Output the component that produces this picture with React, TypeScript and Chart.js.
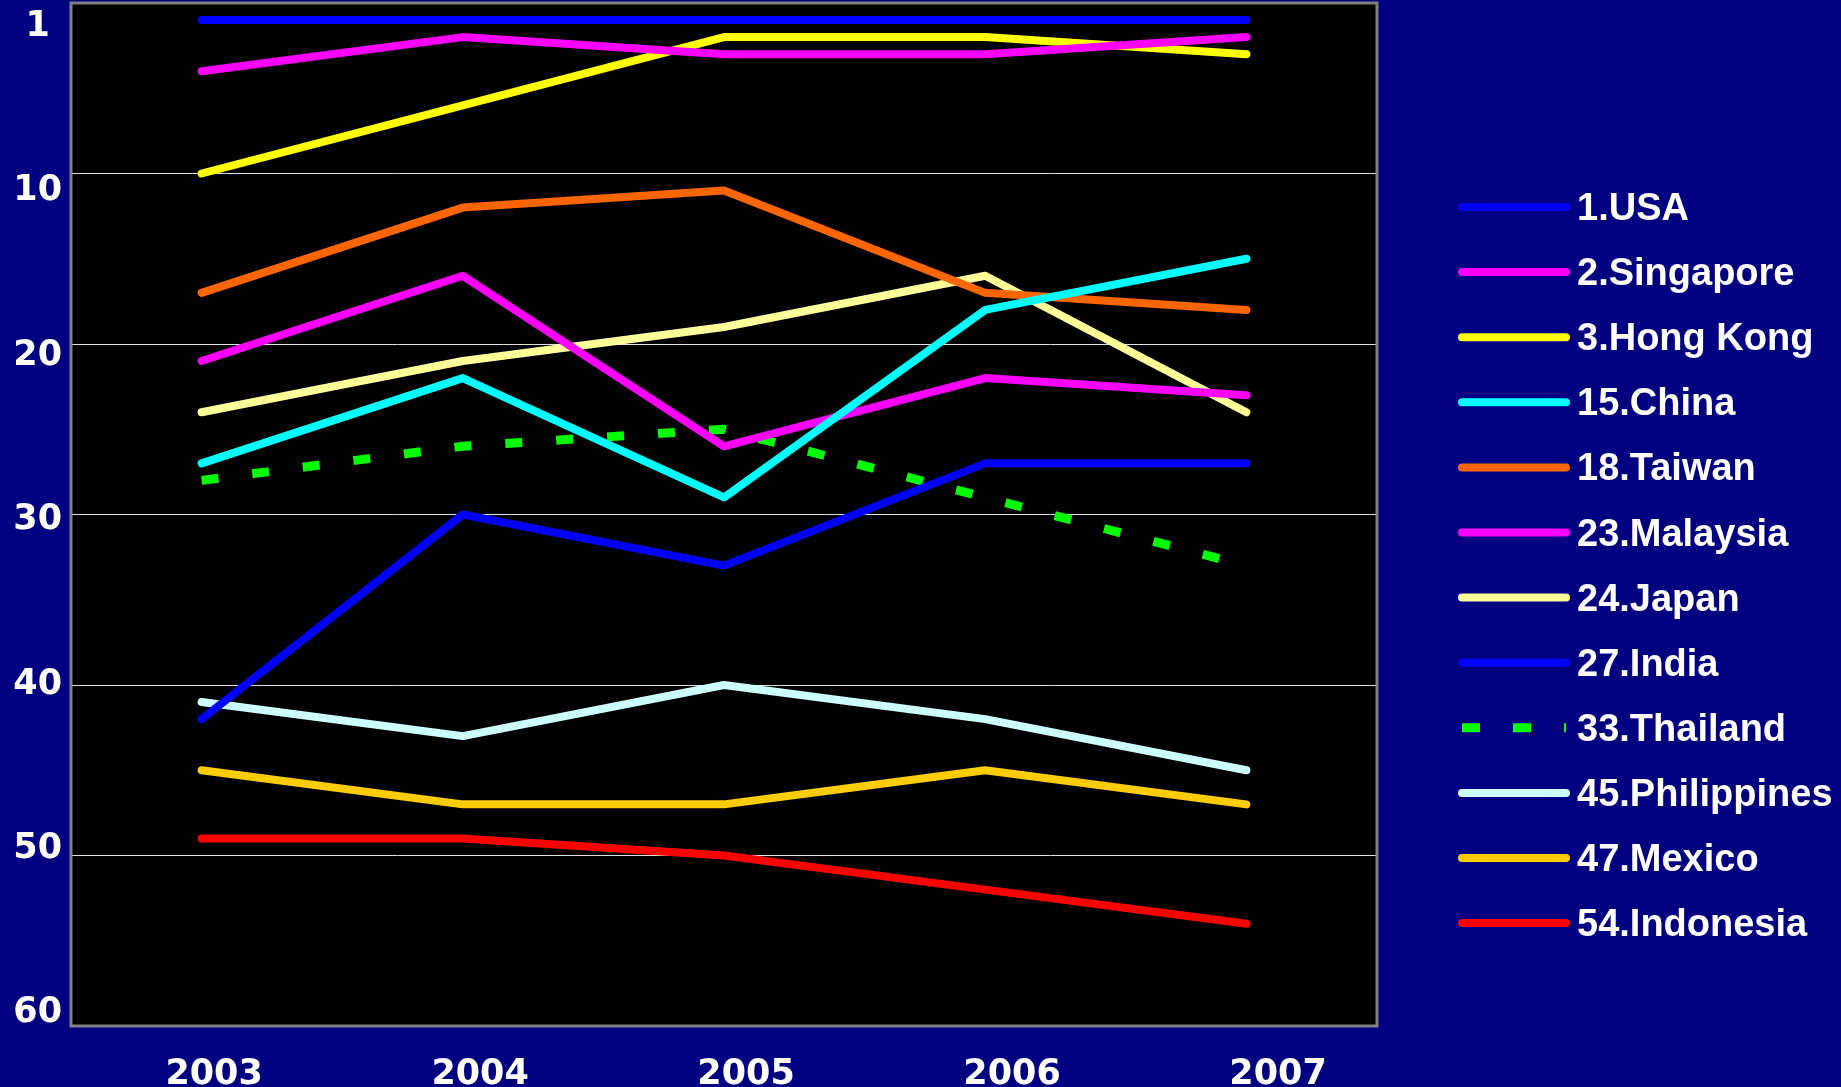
import React, { useEffect, useRef } from 'react';
import { Chart, registerables } from 'chart.js';

Chart.register(...registerables);

// ---- data ----
const YEARS = ['2003', '2004', '2005', '2006', '2007'];
const COUNTRIES = [
  '1.USA', '2.Singapore', '3.Hong Kong', '15.China', '18.Taiwan', '23.Malaysia',
  '24.Japan', '27.India', '33.Thailand', '45.Philippines', '47.Mexico', '54.Indonesia',
];
const USA = [1, 1, 1, 1, 1];
const SINGAPORE = [4, 2, 3, 3, 2];
const HONG_KONG = [10, 6, 2, 2, 3];
const CHINA = [27, 22, 29, 18, 15];
const TAIWAN = [17, 12, 11, 17, 18];
const MALAYSIA = [21, 16, 26, 22, 23];
const JAPAN = [24, 21, 19, 16, 24];
const INDIA = [42, 30, 33, 27, 27];
const THAILAND = [28, 26, 25, 29, 33];
const PHILIPPINES = [41, 43, 40, 42, 45];
const MEXICO = [45, 47, 47, 45, 47];
const INDONESIA = [49, 49, 50, 52, 54];
const SERIES = [USA, SINGAPORE, HONG_KONG, CHINA, TAIWAN, MALAYSIA, JAPAN, INDIA, THAILAND, PHILIPPINES, MEXICO, INDONESIA];
const Y_TICK_VALUES = [0, 10, 20, 30, 40, 50, 60];
const Y_TICK_LABELS = ['1', '10', '20', '30', '40', '50', '60'];

// ---- styles ----
const COLORS = [
  '#0000FF', '#FF00FF', '#FFFF00', '#00FFFF', '#FF6600', '#FF00FF',
  '#FFFF99', '#0000FF', '#00FF00', '#CCFFFF', '#FFCC00', '#FF0000',
];
const DASHED_INDEX = 8;
const NAVY = '#000080';
const AXIS_FONT = { family: '"DejaVu Sans", Verdana, sans-serif', size: 35, weight: 'bold' as const };
const LEGEND_FONT = 'bold 38px "Liberation Sans", Arial, sans-serif';

const zeroPadding = (scale: any) => {
  scale.paddingTop = 0;
  scale.paddingBottom = 0;
  scale.paddingLeft = 0;
  scale.paddingRight = 0;
};

const framePlugin = {
  id: 'frame',
  beforeDraw(chart: any) {
    const { ctx, chartArea: a } = chart;
    ctx.save();
    ctx.fillStyle = '#000000';
    ctx.fillRect(a.left, a.top, a.right - a.left, a.bottom - a.top);
    ctx.restore();
  },
  afterDraw(chart: any) {
    const { ctx, chartArea: a } = chart;
    ctx.save();
    ctx.strokeStyle = '#808080';
    ctx.lineWidth = 3;
    ctx.strokeRect(a.left, a.top, a.right - a.left, a.bottom - a.top);

    // legend
    const x0 = a.right + 85;
    const x1 = a.right + 189;
    const y0 = 207;
    const step = 65.1;
    chart.data.datasets.forEach((ds: any, i: number) => {
      const y = y0 + i * step;
      ctx.beginPath();
      ctx.strokeStyle = ds.borderColor;
      if (ds.borderDash && ds.borderDash.length) {
        ctx.setLineDash([18, 33]);
        ctx.lineCap = 'butt';
        ctx.lineWidth = 9;
      } else {
        ctx.setLineDash([]);
        ctx.lineCap = 'round';
        ctx.lineWidth = 8;
      }
      ctx.moveTo(x0, y);
      ctx.lineTo(x1, y);
      ctx.stroke();
      ctx.setLineDash([]);
      ctx.fillStyle = '#FFFFFF';
      ctx.font = LEGEND_FONT;
      ctx.textAlign = 'left';
      ctx.textBaseline = 'alphabetic';
      ctx.fillText(ds.label, a.right + 200, y + 13);
    });
    ctx.restore();
  },
};

export default function App() {
  const ref = useRef<HTMLCanvasElement | null>(null);

  useEffect(() => {
    if (!ref.current) return;
    const datasets = SERIES.map((values, i) => {
      const dashed = i === DASHED_INDEX;
      return {
        label: COUNTRIES[i],
        data: values,
        borderColor: COLORS[i],
        backgroundColor: COLORS[i],
        borderWidth: dashed ? 9 : 8,
        borderDash: dashed ? [17, 34] : [],
        borderCapStyle: dashed ? 'butt' : 'round',
        borderJoinStyle: 'round',
        pointRadius: 0,
        pointHoverRadius: 0,
        tension: 0,
        fill: false,
        xAxisID: 'x',
        yAxisID: 'y',
      };
    });

    const chart = new Chart(ref.current, {
      type: 'line',
      data: { labels: YEARS, datasets: datasets as any },
      plugins: [framePlugin],
      options: {
        animation: false,
        responsive: false,
        devicePixelRatio: 1,
        layout: { padding: { top: 3, right: 464, left: 0, bottom: 0 }, autoPadding: false },
        plugins: { legend: { display: false }, tooltip: { enabled: false } },
        scales: {
          x: {
            type: 'category',
            offset: true,
            display: false,
          },
          y: {
            type: 'linear',
            position: 'left',
            min: 0,
            max: 60,
            reverse: true,
            ticks: { stepSize: 10, display: false },
            grid: { color: '#E0E0E0', lineWidth: 1, drawTicks: false },
            border: { display: false },
            afterFit: (s: any) => { s.width = 0; zeroPadding(s); },
          },
          yl: {
            type: 'linear',
            position: 'left',
            min: -1.46,
            max: 60.78,
            bounds: 'data',
            reverse: true,
            grid: { display: false, drawTicks: false },
            border: { display: false },
            afterBuildTicks: (s: any) => { s.ticks = Y_TICK_VALUES.map((v) => ({ value: v })); },
            ticks: {
              color: '#FFFFFF',
              font: AXIS_FONT,
              padding: 9,
              crossAlign: 'center',
              callback: (_v: any, i: number) => Y_TICK_LABELS[i],
            },
            afterFit: (s: any) => { s.width = 71; zeroPadding(s); },
          },
          xl: {
            type: 'linear',
            position: 'bottom',
            min: -0.538,
            max: 4.372,
            bounds: 'data',
            grid: { display: false, drawTicks: false },
            border: { display: false },
            afterBuildTicks: (s: any) => { s.ticks = YEARS.map((_y, i) => ({ value: i })); },
            ticks: {
              color: '#FFFFFF',
              font: AXIS_FONT,
              padding: 28,
              maxRotation: 0,
              autoSkip: false,
              callback: (_v: any, i: number) => YEARS[i],
            },
            afterFit: (s: any) => { s.height = 61; zeroPadding(s); },
          },
        },
      } as any,
    });
    return () => chart.destroy();
  }, []);

  return (
    <div style={{ position: 'fixed', left: 0, top: 0, width: 1841, height: 1087, background: NAVY }}>
      <canvas ref={ref} width={1841} height={1087} style={{ display: 'block' }} />
    </div>
  );
}
